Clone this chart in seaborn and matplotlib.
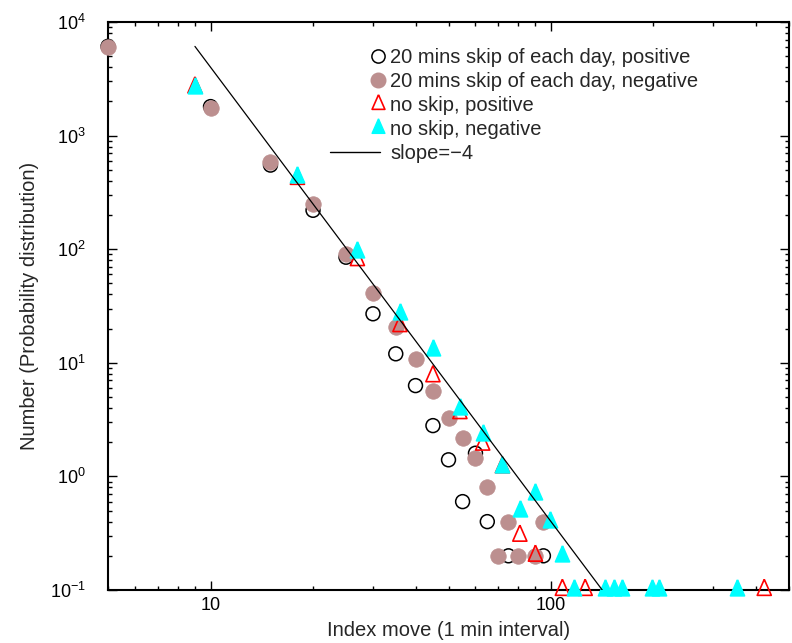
import numpy as np
import matplotlib
matplotlib.use("Agg")
import matplotlib.pyplot as plt
from matplotlib.lines import Line2D
from matplotlib.legend_handler import HandlerLine2D
from matplotlib.ticker import FixedLocator, FixedFormatter, NullFormatter, LogLocator
import seaborn as sns

# 20 mins skip of each day
skip_pos_x = [5, 10, 15, 20, 25, 30, 35, 40, 45, 50, 55, 60, 65, 75, 95]
skip_pos_y = [6100, 1800, 550, 220, 85, 27, 12, 6.3, 2.8, 1.4, 0.6, 1.6, 0.4, 0.2, 0.2]
skip_neg_x = [5, 10, 15, 20, 25, 30, 35, 40, 45, 50, 55, 60, 65, 70, 75, 80, 90, 95]
skip_neg_y = [6000, 1750, 590, 250, 90, 41.5, 20.5, 10.7, 5.6, 3.3, 2.2, 1.45, 0.8,
              0.2, 0.4, 0.2, 0.2, 0.4]

# no skip
noskip_pos_x = [9, 18, 27, 36, 45, 54, 63, 72, 81, 90, 108, 126, 423]
noskip_pos_y = [2650, 415, 80, 21, 7.6, 3.6, 1.9, 1.2, 0.3, 0.2, 0.1, 0.1, 0.1]
noskip_neg_x = [9, 18, 27, 36, 45, 54, 63, 72, 81, 90, 99, 108, 117, 144, 153, 162,
                198, 207, 351]
noskip_neg_y = [2650, 435, 95, 27, 13, 3.9, 2.3, 1.2, 0.5, 0.7, 0.4, 0.2, 0.1, 0.1,
                0.1, 0.1, 0.1, 0.1, 0.1]

# power-law guide line
slope = -4
slope_amp = 4.0e7
slope_x = [9, 141.4]
slope_y = [slope_amp * v ** slope for v in slope_x]

labels = ["20 mins skip of each day, positive",
          "20 mins skip of each day, negative",
          "no skip, positive",
          "no skip, negative",
          "slope=\u22124"]
x_tick_vals = [10, 100]
x_tick_text = ["10", "100"]

sns.set_style("ticks")
plt.rcParams["font.family"] = ["Liberation Sans", "DejaVu Sans"]
plt.rcParams["mathtext.fontset"] = "custom"
plt.rcParams["mathtext.rm"] = "Liberation Sans"
plt.rcParams["mathtext.it"] = "Liberation Sans:italic"
plt.rcParams["mathtext.bf"] = "Liberation Sans:bold"

BROWN = "#bc8f8f"
CYAN = "#00ffff"
RED = "#ff0000"

# triangle whose centroid sits on the data point
tri = [(0.0, 2 / 3), (-0.44, -1 / 3), (0.44, -1 / 3), (0.0, 2 / 3)]

fig = plt.figure(figsize=(7.92, 6.43), dpi=100)
ax = fig.add_axes([0.1364, 0.0824, 0.8598, 0.8834])
ax.set_xscale("log")
ax.set_yscale("log")

sns.scatterplot(x=skip_pos_x, y=skip_pos_y, ax=ax, marker="o", s=100,
                facecolor="none", edgecolor="black", linewidth=1.1,
                clip_on=False, zorder=3, legend=False)
sns.scatterplot(x=skip_neg_x, y=skip_neg_y, ax=ax, marker="o", s=125,
                color=BROWN, edgecolor=BROWN, linewidth=0.5,
                clip_on=False, zorder=4, legend=False)
sns.scatterplot(x=noskip_pos_x, y=noskip_pos_y, ax=ax, marker=tri, s=236,
                facecolor="none", edgecolor=RED, linewidth=1.2,
                clip_on=False, zorder=5, legend=False)
sns.scatterplot(x=noskip_neg_x, y=noskip_neg_y, ax=ax, marker=tri, s=236,
                color=CYAN, edgecolor=CYAN, linewidth=1.2,
                clip_on=False, zorder=6, legend=False)
sns.lineplot(x=slope_x, y=slope_y, ax=ax, color="black", linewidth=0.9,
             zorder=7, legend=False)

ax.set_xlim(5, 500)
ax.set_ylim(0.1, 1e4)

ax.xaxis.set_major_locator(FixedLocator(x_tick_vals))
ax.xaxis.set_major_formatter(FixedFormatter(x_tick_text))
ax.xaxis.set_minor_locator(LogLocator(base=10, subs=range(2, 10), numticks=20))
ax.xaxis.set_minor_formatter(NullFormatter())
ax.yaxis.set_major_locator(LogLocator(base=10, numticks=10))
ax.yaxis.set_minor_locator(LogLocator(base=10, subs=range(2, 10), numticks=20))
ax.yaxis.set_minor_formatter(NullFormatter())

ax.tick_params(which="both", direction="in", top=True, right=True,
               labelsize=13, colors="black", width=1.0)
ax.tick_params(which="major", length=6.5)
ax.tick_params(which="minor", length=3)
ax.tick_params(axis="x", which="major", pad=5)
ax.tick_params(axis="y", which="major", pad=16)
for sp in ax.spines.values():
    sp.set_linewidth(1.5)
    sp.set_color("black")

ax.set_xlabel("Index move (1 min interval)", fontsize=14.5, labelpad=5)
ax.set_ylabel("Number (Probability distribution)", fontsize=14.5, labelpad=8)


class RightMarkerHandler(HandlerLine2D):
    """Place the single legend marker at the right end of the handle box."""

    def get_xdata(self, legend, xdescent, ydescent, width, height, fontsize):
        xr = -xdescent + width - 1.5
        return [xr - 0.5, xr + 0.5], [xr]


handles = [
    Line2D([], [], ls="none", marker="o", markersize=9.5, markerfacecolor="none",
           markeredgecolor="black", markeredgewidth=1.1),
    Line2D([], [], ls="none", marker="o", markersize=10.5, markerfacecolor=BROWN,
           markeredgecolor=BROWN),
    Line2D([], [], ls="none", marker=tri, markersize=14, markerfacecolor="none",
           markeredgecolor=RED, markeredgewidth=1.2),
    Line2D([], [], ls="none", marker=tri, markersize=14, markerfacecolor=CYAN,
           markeredgecolor=CYAN),
    Line2D([], [], color="black", linewidth=1.0),
]
hm = {h: RightMarkerHandler(numpoints=1) for h in handles[:4]}
leg = ax.legend(handles, labels, loc="upper left", bbox_to_anchor=(0.326, 0.955),
                frameon=False, fontsize=14.5, handlelength=2.5, handletextpad=0.5,
                labelspacing=0.26, borderpad=0, borderaxespad=0, handler_map=hm)

fig.savefig("out.png", dpi=100)
